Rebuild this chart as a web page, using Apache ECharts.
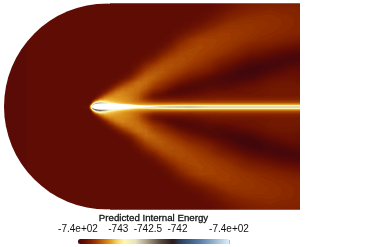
<!DOCTYPE html>
<html><head><meta charset="utf-8">
<style>html,body{margin:0;padding:0;background:#fff}#c{width:389px;height:247px}</style>
<script src="https://cdn.jsdelivr.net/npm/echarts@6/dist/echarts.min.js"></script>
</head><body><div id="c"></div>
<script>
// Field values at mesh nodes, in hundredths above the base energy.
const baseEnergy = -744;
const xNodes = [4,40,80,89,91,93,96,100,105,110,116,122,130,138,146,154,162,170,180,190,200,210,220,230,240,250,260,270,280,290,300];
const dNodes = [0,1,2,3,4,5,7,9,12,15,19,24,29,35,41,47,53,60,67,74,81,88,96,104];
const x004=[39,39,39,39,39,39,39,39,39,39,39,39,39,39,39,39,39,39,39,39,39,39,39,39];
const x040=[41,41,41,41,41,41,41,41,41,41,41,41,41,41,41,41,41,41,41,41,41,41,41,41];
const x080=[41,41,41,41,41,41,41,41,41,41,41,41,41,41,41,41,41,41,41,41,41,41,41,41];
const x089=[44,43,42,41,41,41,41,41,41,41,41,41,41,41,41,41,41,41,41,41,41,41,41,41];
const x091=[110,100,80,55,44,42,41,41,41,41,41,41,41,41,41,41,41,41,41,41,41,41,41,41];
const x093=[160,165,160,120,90,66,46,41,41,41,41,41,41,41,41,41,41,41,41,41,41,41,41,41];
const x096=[175,175,175,170,135,105,66,48,41,41,41,41,41,41,41,41,41,41,41,41,41,41,41,41];
const x100=[175,175,175,172,155,120,88,66,48,42,41,41,41,41,41,41,41,41,41,41,41,41,41,41];
const x105=[160,160,160,158,135,110,92,82,66,50,42,41,41,41,41,41,41,41,41,41,41,41,41,41];
const x110=[140,140,140,130,112,98,90,86,76,64,48,41,41,41,41,41,41,41,41,41,41,41,41,41];
const x116=[125,125,125,110,98,92,88,85,82,76,62,45,41,41,41,41,41,41,41,41,41,41,41,41];
const x122=[118,118,112,100,92,88,85,84,82,80,72,56,43,41,41,41,41,41,41,41,41,41,41,41];
const x130=[118,112,100,92,86,82,80,80,78,78,76,68,52,42,41,41,41,41,41,41,41,41,41,41];
const x138=[122,110,92,86,80,76,72,72,72,74,76,76,66,54,45,41,41,41,41,41,41,41,41,41];
const x146=[130,115,90,82,76,70,62,58,60,64,70,74,74,66,56,46,41,41,41,41,41,41,41,41];
const x154=[135,122,90,80,72,64,54,47,46,52,60,66,72,70,64,52,44,41,41,41,41,41,41,41];
const x162=[138,125,92,80,70,62,52,46,42,46,54,60,66,70,68,62,52,43,41,41,41,41,41,41];
const x170=[140,128,92,80,70,62,52,46,39,38,46,54,62,66,68,66,60,50,43,41,41,41,41,41];
const x180=[142,128,94,82,70,62,52,46,40,36,37,46,54,62,66,67,65,60,52,44,41,41,41,41];
const x190=[144,130,94,82,70,62,53,47,42,38,36,40,48,56,62,65,66,64,60,50,43,41,41,41];
const x200=[140,128,94,82,70,64,55,49,44,40,37,37,43,52,58,62,64,65,64,56,47,42,41,41];
const x210=[138,125,95,82,70,64,55,50,46,43,39,37,38,47,54,58,62,64,64,60,52,46,42,41];
const x220=[138,125,95,82,70,64,56,51,47,44,38,36,35,41,47,53,59,62,63,62,57,50,45,43];
const x230=[138,125,95,82,70,64,56,51,47,45,40,36,33,36,42,49,55,60,62,62,60,55,49,45];
const x240=[138,125,95,82,70,64,56,51,47,45,43,38,33,32,37,44,51,56,60,61,60,57,52,48];
const x250=[138,125,95,82,70,64,56,51,47,46,45,40,34,31,33,39,46,53,58,60,60,58,54,50];
const x260=[138,125,95,82,70,64,56,51,47,47,46,43,38,33,32,37,44,51,56,58,59,58,55,51];
const x270=[138,125,95,82,70,64,56,51,48,48,48,46,42,36,33,35,41,49,55,57,58,58,56,52];
const x280=[138,125,95,82,70,64,56,51,48,48,48,47,44,39,34,33,38,46,53,56,57,57,55,52];
const x290=[138,125,95,82,70,64,56,51,48,48,48,47,45,42,37,33,36,44,51,55,56,56,55,52];
const x300=[138,125,95,82,70,64,56,51,48,48,48,46,44,42,38,34,35,42,49,54,55,55,54,52];
const fieldColumns=[x004,x040,x080,x089,x091,x093,x096,x100,x105,x110,x116,x122,x130,x138,x146,x154,x162,x170,x180,x190,x200,x210,x220,x230,x240,x250,x260,x270,x280,x290,x300];
const airfoilX=[91.5,92,93,95,97,100,105,110,115,120,130,140,150,158];
const airfoilHalf=[0,1.1,1.8,2.5,2.9,3.2,3.3,3.2,3,2.6,2,1.3,.6,.15];
const tickValues=[-743.68,-743,-742.5,-742,-741.13];
const tickLabels=['-7.4e+02','-743','-742.5','-742','-7.4e+02'];
const colorStops=[[-743.68,'#42070b'],[-743.59,'#5f0c04'],[-743.47,'#7f2000'],[-743.37,'#a03c00'],[-743.24,'#c87010'],[-743.14,'#e09a20'],[-743.03,'#f5d060'],[-742.9,'#fff8b0'],[-742.71,'#e8e4c0'],[-742.54,'#b0a890'],[-742.29,'#5a4a40'],[-742.08,'#2a1a18'],[-741.95,'#2a4060'],[-741.61,'#5a7fa8'],[-741.13,'#dceefa']];

const vMin=tickValues[0],vMax=tickValues[4];
function rgb(h){return [1,3,5].map(i=>parseInt(h.substr(i,2),16));}
const palette=[];
for(let i=0;i<=200;i++){
  const v=vMin+(vMax-vMin)*i/200;let k=0;
  while(k<colorStops.length-2&&colorStops[k+1][0]<v)k++;
  const a=colorStops[k],b=colorStops[k+1],t=Math.min(1,(v-a[0])/(b[0]-a[0]));
  const ca=rgb(a[1]),cb=rgb(b[1]);
  palette.push('rgb('+ca.map((c,j)=>Math.round(c+(cb[j]-c)*t)).join(',')+')');
}
function colorOf(v){return palette[Math.max(0,Math.min(200,Math.round((v-vMin)/(vMax-vMin)*200)))];}

// One quad per mesh cell, with its four corner values (both halves of the field).
const quads=[];
for(let r=dNodes.length-2;r>=0;r--){
  [1,-1].forEach(s=>{
    for(let c=0;c<xNodes.length-1;c++){
      const e=(cc,rr)=>baseEnergy+fieldColumns[cc][rr]/100;
      quads.push([xNodes[c],xNodes[c+1],s*dNodes[r],s*dNodes[r+1],e(c,r),e(c+1,r),e(c,r+1),e(c+1,r+1)]);
    }
  });
}
const airfoil=[];
airfoilX.forEach((x,i)=>airfoil.push([x,airfoilHalf[i]]));
for(let i=airfoilX.length-2;i>0;i--)airfoil.push([airfoilX[i],-airfoilHalf[i]]);

const arcCentre=107,arcRadius=103;
const chart=echarts.init(document.getElementById('c'),null,{renderer:'canvas'});
chart.setOption({
  animation:false,
  grid:[{left:4,top:3.3,width:295.6,height:206.4},{left:78,top:239,width:151,height:5}],
  xAxis:[
    {gridIndex:0,type:'value',min:4,max:299.6,show:false},
    {gridIndex:1,type:'value',min:vMin,max:vMax,position:'top',
     name:'Predicted Internal Energy',nameLocation:'center',nameGap:16,
     nameTextStyle:{fontFamily:'Liberation Sans',fontSize:9.7,color:'#111',textBorderColor:'#111',textBorderWidth:.3},
     axisLine:{show:false},splitLine:{show:false},
     axisTick:{show:true,length:4,customValues:tickValues,lineStyle:{color:'#bbb',width:1}},
     axisLabel:{show:true,customValues:tickValues,margin:5,hideOverlap:false,showMinLabel:true,showMaxLabel:true,
       fontFamily:'Liberation Sans',fontSize:10,color:'#111',
       formatter:v=>{const i=tickValues.findIndex(t=>Math.abs(t-v)<1e-6);return i<0?'':tickLabels[i];}}}
  ],
  yAxis:[
    {gridIndex:0,type:'value',min:-103.2,max:103.2,show:false},
    {gridIndex:1,type:'value',min:0,max:1,show:false}
  ],
  visualMap:{type:'continuous',min:vMin,max:vMax,dimension:4,seriesIndex:0,orient:'horizontal',
    left:78,top:239,itemWidth:5,itemHeight:151,padding:0,calculable:false,hoverLink:false,showLabel:false,text:null,
    inRange:{color:palette}},
  series:[
    {type:'custom',xAxisIndex:0,yAxisIndex:0,clip:true,silent:true,data:quads,
     encode:{x:[0,1],y:[2,3]},
     renderItem(params,api){
       // Gouraud-style shading of one mesh quad from its corner values.
       const p0=api.coord([api.value(0),api.value(2)]),p1=api.coord([api.value(1),api.value(3)]);
       const v=[4,5,6,7].map(i=>api.value(i));
       const w=p1[0]-p0[0],h=p1[1]-p0[1];
       const flat=v[0]===v[1]&&v[1]===v[2]&&v[2]===v[3];
       const nx=flat?1:Math.max(1,Math.ceil(Math.abs(w))),ny=flat?1:Math.max(1,Math.ceil(Math.abs(h)));
       const children=[];
       for(let j=0;j<ny;j++){
         const tb=(j+.5)/ny;
         for(let i=0;i<nx;i++){
           const ta=(i+.5)/nx;
           const val=(v[0]*(1-ta)+v[1]*ta)*(1-tb)+(v[2]*(1-ta)+v[3]*ta)*tb;
           const xa=Math.round(p0[0]+w*i/nx),xb=Math.round(p0[0]+w*(i+1)/nx);
           const ya=Math.round(p0[1]+h*j/ny),yb=Math.round(p0[1]+h*(j+1)/ny);
           const x=Math.min(xa,xb),y=Math.min(ya,yb),rw=Math.abs(xb-xa),rh=Math.abs(yb-ya);
           if(rw>0&&rh>0)children.push({type:'rect',shape:{x:x,y:y,width:rw,height:rh},style:{fill:colorOf(val)}});
         }
       }
       const g={type:'group',children:children};
       if(api.value(0)<arcCentre){
         const c=api.coord([arcCentre,0]);
         g.clipPath={type:'circle',shape:{cx:c[0],cy:c[1],r:arcRadius}};
       }
       return g;
     }},
    {type:'custom',xAxisIndex:0,yAxisIndex:0,silent:true,data:[0],z:5,
     renderItem(params,api){
       return {type:'polygon',shape:{points:airfoil.map(p=>api.coord(p))},style:{fill:'#fff'}};
     }}
  ]
});
</script></body></html>
